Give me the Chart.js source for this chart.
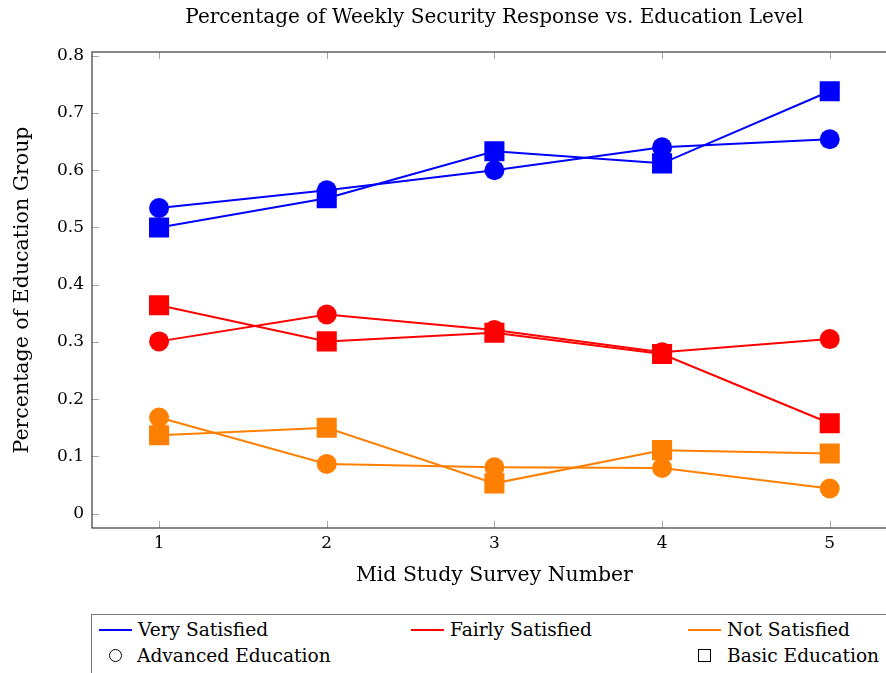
<!DOCTYPE html>
<html>
<head>
<meta charset="utf-8">
<script src="https://cdn.jsdelivr.net/npm/chart.js@4.4.1/dist/chart.umd.min.js"></script>
<style>
  html, body { margin: 0; padding: 0; background: #fff; overflow: hidden; }
  #wrap { position: relative; width: 920px; height: 673px; overflow: hidden; }
  canvas { position: absolute; left: 0; top: 0; }
  #legend {
    position: absolute; left: 91px; top: 614px; width: 840px; height: 80px;
    border: 1.5px solid #777; box-sizing: border-box;
    font-family: "DejaVu Serif", serif; font-size: 18.6px; color: #000;
  }
  .item { position: absolute; display: flex; align-items: center; white-space: nowrap; }
  .line { display: inline-block; width: 33px; height: 2px; margin-right: 6px; }
  .circ { display: inline-block; width: 11px; height: 11px; border: 1.2px solid #000; border-radius: 50%; margin-right: 15px; }
  .sq { display: inline-block; width: 11px; height: 11px; border: 1.2px solid #000; margin-right: 16px; }
</style>
</head>
<body>
<div id="wrap">
  <canvas id="chart" width="911" height="600" style="width:911px;height:600px"></canvas>
  <div id="legend"></div>
</div>
<script>
// Survey rounds and y-axis tick values
const surveys = [1, 2, 3, 4, 5];
const yTicks = [0, 0.1, 0.2, 0.3, 0.4, 0.5, 0.6, 0.7, 0.8];

// Share of each education group giving each response
const veryAdvanced   = [0.534, 0.565, 0.600, 0.640, 0.654];
const veryBasic      = [0.500, 0.551, 0.633, 0.612, 0.738];
const fairlyAdvanced = [0.301, 0.348, 0.321, 0.282, 0.305];
const fairlyBasic    = [0.364, 0.301, 0.316, 0.279, 0.158];
const notAdvanced    = [0.168, 0.087, 0.081, 0.080, 0.044];
const notBasic       = [0.137, 0.150, 0.053, 0.111, 0.105];

const BLUE = '#0000ff', RED = '#ff0000', ORANGE = '#ff8000';
const SERIF = '"DejaVu Serif", serif';

function series(values, color, shape) {
  return {
    data: values.map((v, i) => ({ x: surveys[i], y: v })),
    borderColor: color,
    backgroundColor: color,
    borderWidth: 2,
    pointStyle: shape,
    pointRadius: shape === 'rect' ? 14.2 : 10,
    pointBorderWidth: 0,
    pointBackgroundColor: color,
    tension: 0
  };
}

const datasets = [
  series(veryAdvanced, BLUE, 'circle'),
  series(veryBasic, BLUE, 'rect'),
  series(fairlyAdvanced, RED, 'circle'),
  series(fairlyBasic, RED, 'rect'),
  series(notAdvanced, ORANGE, 'circle'),
  series(notBasic, ORANGE, 'rect')
];
// later series are painted over earlier ones
datasets.forEach((d, i) => { d.order = datasets.length - i; });

// Frame around the plot plus short inward tick marks on every side
const frameTicks = {
  id: 'frameTicks',
  afterDatasetsDraw(chart) {
    const { ctx, chartArea: a, scales: { x, y } } = chart;
    ctx.save();
    ctx.strokeStyle = '#a8a8a8';
    ctx.lineWidth = 1;
    const L = 7;
    ctx.beginPath();
    surveys.forEach(v => {
      const px = Math.round(x.getPixelForValue(v)) + 0.5;
      ctx.moveTo(px, a.bottom); ctx.lineTo(px, a.bottom - L);
      ctx.moveTo(px, a.top); ctx.lineTo(px, a.top + L);
    });
    yTicks.forEach(v => {
      const py = Math.round(y.getPixelForValue(v)) + 0.5;
      ctx.moveTo(a.left, py); ctx.lineTo(a.left + L, py);
      ctx.moveTo(a.right, py); ctx.lineTo(a.right - L, py);
    });
    ctx.stroke();
    ctx.strokeStyle = '#3a3a3a';
    ctx.lineWidth = 1.2;
    ctx.strokeRect(a.left, a.top, a.right - a.left, a.bottom - a.top);
    ctx.restore();
  }
};

new Chart(document.getElementById('chart'), {
  type: 'line',
  data: { datasets },
  plugins: [frameTicks],
  options: {
    responsive: false,
    animation: false,
    devicePixelRatio: 1,
    layout: { padding: { left: 0, right: 4, top: 0, bottom: 0 } },
    plugins: {
      legend: { display: false },
      tooltip: { enabled: false },
      title: {
        display: true,
        fullSize: false,
        text: 'Percentage of Weekly Security Response vs. Education Level',
        color: '#000',
        font: { family: SERIF, size: 20, weight: 'normal' },
        padding: { top: 6, bottom: 22 }
      }
    },
    scales: {
      x: {
        type: 'linear',
        min: 0.6, max: 5.4,
        grid: { display: false, drawTicks: false },
        border: { display: false },
        afterBuildTicks(s) { s.ticks = surveys.map(v => ({ value: v })); },
        afterFit(s) { s.height = 72; },
        ticks: {
          color: '#000', padding: 5,
          font: { family: SERIF, size: 17 },
          callback: v => String(v)
        },
        title: {
          display: true, text: 'Mid Study Survey Number', color: '#000',
          font: { family: SERIF, size: 20.4 },
          padding: { top: 0, bottom: 12 }
        }
      },
      y: {
        type: 'linear',
        min: -0.025, max: 0.8065,
        grid: { display: false, drawTicks: false },
        border: { display: false },
        afterBuildTicks(s) { s.ticks = yTicks.map(v => ({ value: v })); },
        afterFit(s) { s.width = 92; },
        ticks: {
          color: '#000', padding: 8,
          font: { family: SERIF, size: 17 },
          callback: v => (v === 0 ? '0' : v.toFixed(1))
        },
        title: {
          display: true, text: 'Percentage of Education Group', color: '#000',
          font: { family: SERIF, size: 20.5 },
          padding: { top: 10, bottom: 0 }
        }
      }
    }
  }
});

// Legend: response colours on the first row, marker shapes on the second
const legendItems = [
  { kind: 'line', color: BLUE,   text: 'Very Satisfied',     left: 7,   top: 4 },
  { kind: 'line', color: RED,    text: 'Fairly Satisfied',   left: 319, top: 4 },
  { kind: 'line', color: ORANGE, text: 'Not Satisfied',      left: 596, top: 4 },
  { kind: 'circ', text: 'Advanced Education',                left: 17,  top: 30 },
  { kind: 'sq',   text: 'Basic Education',                   left: 606, top: 30 }
];
const legend = document.getElementById('legend');
legendItems.forEach(it => {
  const el = document.createElement('div');
  el.className = 'item';
  el.style.left = it.left + 'px';
  el.style.top = it.top + 'px';
  const mark = document.createElement('span');
  mark.className = it.kind;
  if (it.color) mark.style.background = it.color;
  const label = document.createElement('span');
  label.textContent = it.text;
  el.appendChild(mark);
  el.appendChild(label);
  legend.appendChild(el);
});
</script>
</body>
</html>
